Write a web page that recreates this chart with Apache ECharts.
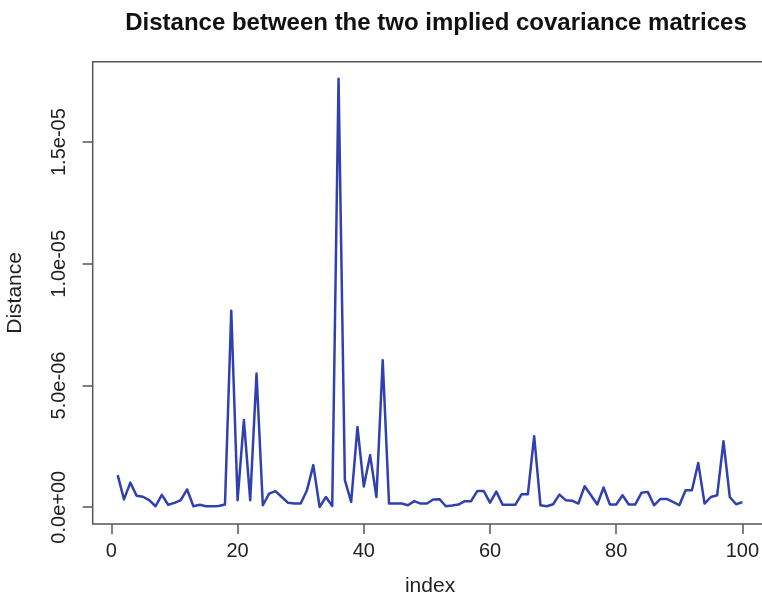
<!DOCTYPE html>
<html>
<head>
<meta charset="utf-8">
<script src="https://cdn.jsdelivr.net/npm/echarts@6/dist/echarts.min.js"></script>
<style>
  html, body { margin: 0; padding: 0; background: #fff; }
  #chart { width: 762px; height: 599px; }
</style>
</head>
<body>
<div id="chart"></div>
<script>
const titleText = 'Distance between the two implied covariance matrices';
const xName = 'index';
const yName = 'Distance';

const indexValues = [
  1, 2, 3, 4, 5, 6, 7, 8, 9, 10,
  11, 12, 13, 14, 15, 16, 17, 18, 19, 20,
  21, 22, 23, 24, 25, 26, 27, 28, 29, 30,
  31, 32, 33, 34, 35, 36, 37, 38, 39, 40,
  41, 42, 43, 44, 45, 46, 47, 48, 49, 50,
  51, 52, 53, 54, 55, 56, 57, 58, 59, 60,
  61, 62, 63, 64, 65, 66, 67, 68, 69, 70,
  71, 72, 73, 74, 75, 76, 77, 78, 79, 80,
  81, 82, 83, 84, 85, 86, 87, 88, 89, 90,
  91, 92, 93, 94, 95, 96, 97, 98, 99, 100
];

const distance = [
  1.32e-6, 0.32e-6, 1.01e-6, 0.47e-6, 0.43e-6, 0.29e-6, 0.04e-6, 0.51e-6, 0.10e-6, 0.18e-6,
  0.29e-6, 0.73e-6, 0.04e-6, 0.10e-6, 0.04e-6, 0.04e-6, 0.05e-6, 0.11e-6, 8.07e-6, 0.29e-6,
  3.58e-6, 0.29e-6, 5.49e-6, 0.08e-6, 0.56e-6, 0.66e-6, 0.42e-6, 0.18e-6, 0.15e-6, 0.15e-6,
  0.70e-6, 1.73e-6, 0.01e-6, 0.42e-6, 0.05e-6, 17.6e-6, 1.11e-6, 0.22e-6, 3.30e-6, 0.85e-6,
  2.14e-6, 0.42e-6, 6.04e-6, 0.15e-6, 0.15e-6, 0.15e-6, 0.08e-6, 0.25e-6, 0.15e-6, 0.15e-6,
  0.32e-6, 0.33e-6, 0.04e-6, 0.07e-6, 0.11e-6, 0.25e-6, 0.25e-6, 0.67e-6, 0.67e-6, 0.19e-6,
  0.64e-6, 0.10e-6, 0.10e-6, 0.10e-6, 0.53e-6, 0.53e-6, 2.92e-6, 0.08e-6, 0.04e-6, 0.12e-6,
  0.52e-6, 0.29e-6, 0.27e-6, 0.15e-6, 0.86e-6, 0.49e-6, 0.11e-6, 0.81e-6, 0.11e-6, 0.11e-6,
  0.49e-6, 0.11e-6, 0.11e-6, 0.59e-6, 0.63e-6, 0.08e-6, 0.34e-6, 0.34e-6, 0.22e-6, 0.08e-6,
  0.70e-6, 0.70e-6, 1.82e-6, 0.15e-6, 0.42e-6, 0.49e-6, 2.71e-6, 0.42e-6, 0.12e-6, 0.21e-6
];

const xTicks = [0, 20, 40, 60, 80, 100];
const yTicks = [0, 5e-6, 1e-5, 1.5e-5];

// R-style axis range: data range extended by 4% on each side
function rRange(arr) {
  const lo = Math.min.apply(null, arr), hi = Math.max.apply(null, arr);
  const pad = (hi - lo) * 0.04;
  return [lo - pad, hi + pad];
}
const xr = rRange(indexValues);
const yr = rRange(distance);

function rSci(v) {
  const s = Number(v).toExponential(1);
  const m = s.match(/^(-?[\d.]+)e([+-])(\d+)$/);
  if (!m) return s;
  const e = m[3].length < 2 ? '0' + m[3] : m[3];
  return m[1] + 'e' + m[2] + e;
}

const seriesData = indexValues.map((x, i) => [x, distance[i]]);

const chart = echarts.init(document.getElementById('chart'), null, { renderer: 'canvas' });
const font = "'Liberation Sans', Arial, Helvetica, sans-serif";
const axisColor = '#555';
chart.setOption({
  animation: false,
  backgroundColor: '#ffffff',
  title: {
    text: titleText,
    left: 431,
    textAlign: 'center',
    top: 6,
    textStyle: { fontFamily: font, fontWeight: 'bold', fontSize: 24, color: '#111' }
  },
  grid: {
    left: 92.7,
    top: 61.7,
    width: 674.7,
    height: 462.4,
    show: true,
    borderColor: axisColor,
    borderWidth: 1.5,
    backgroundColor: 'transparent',
    containLabel: false,
    outerBoundsMode: 'none'
  },
  xAxis: {
    type: 'value',
    min: xr[0],
    max: xr[1],
    name: xName,
    nameLocation: 'middle',
    nameGap: 52,
    nameTextStyle: { fontFamily: font, fontSize: 21, color: '#222' },
    axisLine: { show: false, onZero: false },
    axisTick: { show: true, customValues: xTicks, length: 10, inside: false,
                lineStyle: { color: axisColor, width: 1.5 } },
    axisLabel: { show: true, customValues: xTicks, margin: 17,
                 fontFamily: font, fontSize: 20, color: '#222' },
    splitLine: { show: false }
  },
  yAxis: {
    type: 'value',
    min: yr[0],
    max: yr[1],
    name: yName,
    nameLocation: 'middle',
    nameRotate: 90,
    nameGap: 67,
    nameTextStyle: { fontFamily: font, fontSize: 21, color: '#222' },
    axisLine: { show: false, onZero: false },
    axisTick: { show: true, customValues: yTicks, length: 10, inside: false,
                lineStyle: { color: axisColor, width: 1.5 } },
    axisLabel: { show: true, customValues: yTicks, rotate: 90, margin: 23,
                 fontFamily: font, fontSize: 20, color: '#222',
                 formatter: rSci },
    splitLine: { show: false }
  },
  series: [{
    type: 'line',
    data: seriesData,
    showSymbol: false,
    symbol: 'none',
    lineStyle: { color: '#3140b0', width: 2.5, join: 'round' },
    silent: true
  }]
});
</script>
</body>
</html>
